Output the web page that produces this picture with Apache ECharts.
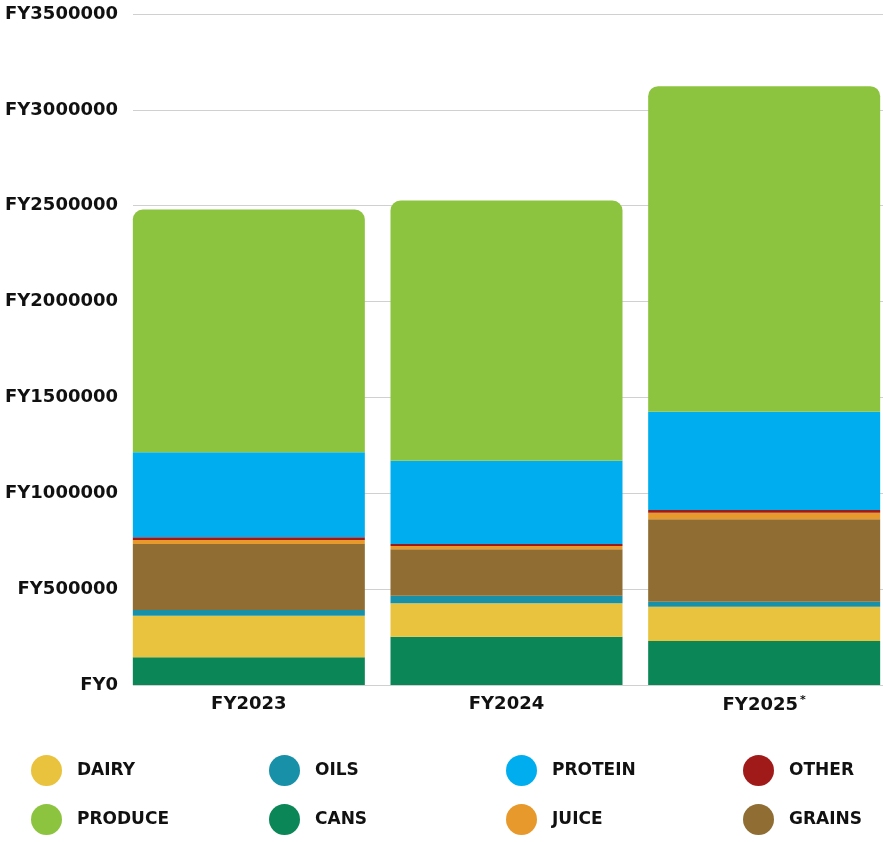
<!DOCTYPE html>
<html>
<head>
<meta charset="utf-8">
<script src="https://cdn.jsdelivr.net/npm/echarts@6/dist/echarts.min.js"></script>
<style>html,body{margin:0;padding:0;background:#fff}#c{width:883px;height:842px}</style>
</head>
<body>
<div id="c"></div>
<script>
const categories = ['FY2023', 'FY2024', 'FY2025'];
const cans    = [144500, 252000, 229500];
const dairy   = [217000, 174000, 178900];
const oils    = [29700, 40000, 26100];
const grains  = [344300, 241700, 429800];
const juice   = [20800, 17300, 34400];
const other   = [14100, 10500, 14100];
const protein = [443300, 434500, 512800];
const produce = [1266000, 1357000, 1698000];
const yTicks = [0, 500000, 1000000, 1500000, 2000000, 2500000, 3000000, 3500000];

const colors = {
  CANS: '#0B8656', DAIRY: '#E9C33D', OILS: '#1790A8', GRAINS: '#8F6D33',
  JUICE: '#E8992B', OTHER: '#A11A1A', PROTEIN: '#00AEEF', PRODUCE: '#8CC43F'
};
const stackOrder = [
  ['CANS', cans], ['DAIRY', dairy], ['OILS', oils], ['GRAINS', grains],
  ['JUICE', juice], ['OTHER', other], ['PROTEIN', protein], ['PRODUCE', produce]
];
const FONT = 'DejaVu Sans';
const yMax = yTicks[yTicks.length - 1];
const yStep = yTicks[1] - yTicks[0];

const series = stackOrder.map(([name, data], i) => ({
  name, type: 'bar', stack: 'total', data,
  xAxisIndex: 0, yAxisIndex: 0,
  barWidth: 232,
  itemStyle: {
    color: colors[name],
    borderRadius: i === stackOrder.length - 1 ? [10, 10, 0, 0] : 0
  },
  emphasis: { disabled: true },
  animation: false
}));

const ellipse = 'path://M0,50 A50,50 0 1,1 100,50 A50,50 0 1,1 0,50 Z';
const legendCols = [['DAIRY', 'PRODUCE'], ['OILS', 'CANS'], ['PROTEIN', 'JUICE'], ['OTHER', 'GRAINS']];
const legendLeft = [26, 264, 501, 738];
const legends = legendCols.map((d, i) => ({
  data: d, orient: 'vertical', left: legendLeft[i], top: 750,
  icon: ellipse, itemWidth: 31, itemHeight: 34, itemGap: 18,
  selectedMode: false,
  textStyle: { fontFamily: FONT, fontWeight: 'bold', fontSize: 17, color: '#111', padding: [0, 0, 0, 10] }
}));

const chart = echarts.init(document.getElementById('c'), null, { renderer: 'canvas' });
chart.setOption({
  backgroundColor: '#fff',
  animation: false,
  legend: legends,
  grid: [
    { left: 120, width: 773, top: 14, bottom: 157, outerBoundsMode: 'none', containLabel: false },
    { left: 133, right: 0, top: 14, bottom: 157, outerBoundsMode: 'none', containLabel: false }
  ],
  xAxis: [
    {
      gridIndex: 0, type: 'category', data: categories,
      axisLine: { show: false }, axisTick: { show: false },
      axisLabel: {
        margin: 10,
        fontFamily: FONT, fontWeight: 'bold', fontSize: 18, color: '#111',
        formatter: v => v === 'FY2025' ? v + '{sup|*}' : v,
        rich: { sup: { fontFamily: FONT, fontSize: 11, fontWeight: 'bold', color: '#111', verticalAlign: 'top', padding: [0, 0, 10, 2] } }
      }
    },
    { gridIndex: 1, type: 'value', show: false, min: 0, max: 1 }
  ],
  yAxis: [
    { gridIndex: 0, type: 'value', min: 0, max: yMax, interval: yStep, show: false },
    {
      gridIndex: 1, type: 'value', min: 0, max: yMax, interval: yStep,
      axisLine: { show: false }, axisTick: { show: false },
      splitLine: { show: true, lineStyle: { color: '#d0d0d0', width: 1 } },
      axisLabel: {
        margin: 15, fontFamily: FONT, fontWeight: 'bold', fontSize: 18, color: '#111',
        formatter: v => 'FY' + v
      }
    }
  ],
  series
});
</script>
</body>
</html>
